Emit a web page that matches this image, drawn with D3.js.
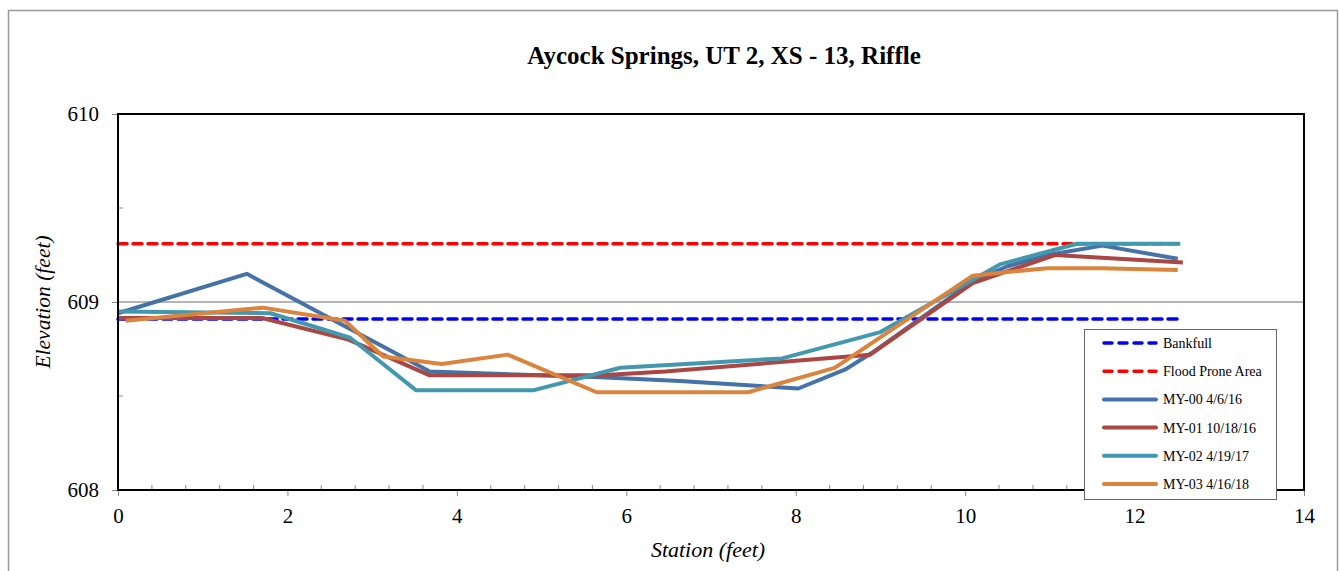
<!DOCTYPE html>
<html>
<head>
<meta charset="utf-8">
<script src="https://cdn.jsdelivr.net/npm/d3@7"></script>
<style>
  html, body { margin: 0; padding: 0; background: #fff; }
  svg { display: block; font-family: "Liberation Serif", "Times New Roman", serif; }
</style>
</head>
<body>
<svg id="chart" width="1339" height="571"></svg>
<script>
// ---- data ----
const chartTitle = "Aycock Springs, UT 2, XS - 13, Riffle";
const xTicks = [0, 2, 4, 6, 8, 10, 12, 14];
const yTicks = [608, 609, 610];

const bankfullX = [0, 12.54];
const bankfullY = [608.91, 608.91];
const floodX = [0, 12.54];
const floodY = [609.31, 609.31];

const my00X = [0, 1.52, 3.68, 5.69, 6.63, 8.03, 8.58, 8.9, 10.09, 10.5, 10.97, 11.62, 12.51];
const my00Y = [608.94, 609.15, 608.63, 608.60, 608.58, 608.54, 608.64, 608.73, 609.11, 609.19, 609.25, 609.30, 609.23];

const my01X = [0, 1.7, 2.72, 3.68, 5.7, 6.46, 8.88, 10.09, 11.06, 12.57];
const my01Y = [608.915, 608.915, 608.80, 608.61, 608.61, 608.63, 608.72, 609.10, 609.25, 609.21];

const my02X = [0, 1.8, 2.74, 3.52, 4.9, 5.93, 7.84, 9.0, 10.41, 11.32, 12.54];
const my02Y = [608.95, 608.94, 608.81, 608.53, 608.53, 608.65, 608.70, 608.84, 609.20, 609.31, 609.31];

const my03X = [0.09, 1.71, 2.68, 3.13, 3.82, 4.6, 5.65, 7.44, 8.46, 10.09, 10.5, 10.97, 11.6, 12.51];
const my03Y = [608.90, 608.97, 608.90, 608.71, 608.67, 608.72, 608.52, 608.52, 608.65, 609.14, 609.16, 609.18, 609.18, 609.17];

const seriesNames = ["Bankfull", "Flood Prone Area", "MY-00 4/6/16", "MY-01 10/18/16", "MY-02 4/19/17", "MY-03 4/16/18"];

// ---- layout ----
const svg = d3.select("#chart");
const L = 118, R = 1304, T = 114, B = 490;
const x = d3.scaleLinear().domain([0, 14]).range([L, R]);
const y = d3.scaleLinear().domain([608, 610]).range([B, T]);

const series = [
  { name: seriesNames[0], xs: bankfullX, ys: bankfullY, color: "#0000FF", width: 3.5, dash: "9,6" },
  { name: seriesNames[1], xs: floodX, ys: floodY, color: "#FF0000", width: 3.5, dash: "9,6" },
  { name: seriesNames[2], xs: my00X, ys: my00Y, color: "#4572A7", width: 4, dash: null },
  { name: seriesNames[3], xs: my01X, ys: my01Y, color: "#AA4643", width: 4, dash: null },
  { name: seriesNames[4], xs: my02X, ys: my02Y, color: "#4198AF", width: 4, dash: null },
  { name: seriesNames[5], xs: my03X, ys: my03Y, color: "#DB843D", width: 4, dash: null }
];

// outer frame
svg.append("path")
  .attr("d", `M8.5,571 V10.5 H1337.5 V571`)
  .attr("fill", "none").attr("stroke", "#9a9a9a").attr("stroke-width", 1.5);

// title
svg.append("text").attr("x", 724).attr("y", 64).attr("text-anchor", "middle")
  .attr("font-size", 25).attr("font-weight", "bold").text(chartTitle);

// gridline at 609
svg.append("g").selectAll("line").data(yTicks.filter(d => d > 608 && d < 610)).join("line")
  .attr("x1", L).attr("x2", R).attr("y1", d => y(d)).attr("y2", d => y(d))
  .attr("stroke", "#6a6a6a").attr("stroke-width", 1);

// minor ticks y (inside)
svg.append("g").selectAll("line").data([608.5, 609.5]).join("line")
  .attr("x1", L).attr("x2", L + 5).attr("y1", d => y(d)).attr("y2", d => y(d))
  .attr("stroke", "#888").attr("stroke-width", 1);
// minor ticks x (inside)
const xMinor = d3.range(0, 14.001, 0.4).filter(v => Math.abs(v / 2 - Math.round(v / 2)) > 1e-6);
svg.append("g").selectAll("line").data(xMinor).join("line")
  .attr("x1", d => x(d)).attr("x2", d => x(d)).attr("y1", B).attr("y2", B - 5)
  .attr("stroke", "#888").attr("stroke-width", 1);

// axes
const xAxis = d3.axisBottom(x).tickValues(xTicks).tickSize(6).tickPadding(12).tickFormat(d3.format("d"));
const yAxis = d3.axisLeft(y).tickValues(yTicks).tickSize(6).tickPadding(13).tickFormat(d3.format("d"));
const gx = svg.append("g").attr("transform", `translate(0,${B})`).call(xAxis);
const gy = svg.append("g").attr("transform", `translate(${L},0)`).call(yAxis);
[gx, gy].forEach(g => {
  g.select(".domain").remove();
  g.selectAll(".tick line").attr("stroke", "#888");
  g.selectAll(".tick text").attr("font-family", "Liberation Serif, Times New Roman, serif")
    .attr("font-size", 21).attr("fill", "#000");
});

// lines
const lineGen = d3.line().x(d => x(d[0])).y(d => y(d[1]));
const gl = svg.append("g");
series.forEach(s => {
  const pts = s.xs.map((v, i) => [v, s.ys[i]]);
  gl.append("path").datum(pts)
    .attr("d", lineGen)
    .attr("fill", "none")
    .attr("stroke", s.color)
    .attr("stroke-width", s.width)
    .attr("stroke-linejoin", "round")
    .attr("stroke-linecap", s.dash ? "round" : "butt")
    .attr("stroke-dasharray", s.dash);
});

// plot frame
svg.append("rect").attr("x", L).attr("y", T).attr("width", R - L).attr("height", B - T)
  .attr("fill", "none").attr("stroke", "#000").attr("stroke-width", 2);

// axis titles
svg.append("text").attr("x", 708).attr("y", 557).attr("text-anchor", "middle")
  .attr("font-size", 22).attr("font-style", "italic").text("Station (feet)");
svg.append("text").attr("transform", `translate(50,${(T + B) / 2}) rotate(-90)`)
  .attr("text-anchor", "middle").attr("font-size", 21.5).attr("font-style", "italic").text("Elevation (feet)");

// legend
const lg = svg.append("g");
lg.append("rect").attr("x", 1084.5).attr("y", 329.5).attr("width", 192).attr("height", 170)
  .attr("fill", "#fff").attr("stroke", "#666").attr("stroke-width", 1);
series.forEach((s, i) => {
  const ly = 343 + i * 28.2;
  lg.append("line").attr("x1", 1104).attr("x2", 1156).attr("y1", ly).attr("y2", ly)
    .attr("stroke", s.color).attr("stroke-width", s.width)
    .attr("stroke-linecap", "round")
    .attr("stroke-dasharray", s.dash ? "8,7" : null);
  lg.append("text").attr("x", 1163).attr("y", ly + 5).attr("font-size", 14).text(s.name);
});
</script>
</body>
</html>
